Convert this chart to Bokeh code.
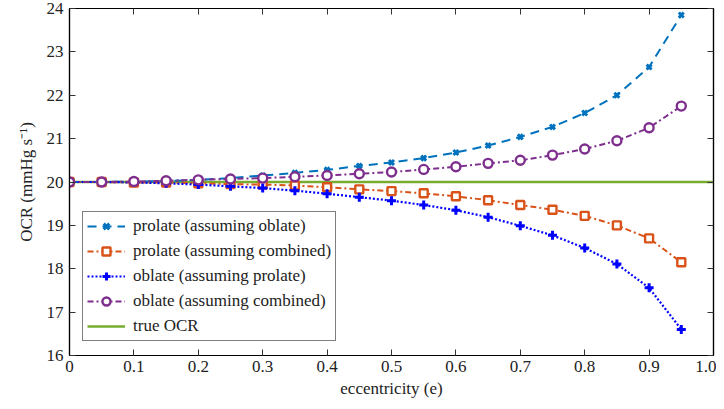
from bokeh.plotting import figure
from bokeh.models import LinearAxis, FixedTicker, Range1d, Legend, LegendItem
from bokeh.embed import file_html
from bokeh.resources import INLINE

# ---------------- data ----------------
e = [0, 0.05, 0.1, 0.15, 0.2, 0.25, 0.3, 0.35, 0.4, 0.45,
     0.5, 0.55, 0.6, 0.65, 0.7, 0.75, 0.8, 0.85, 0.9, 0.95]
prolate_oblate = [20.00, 20.00, 20.01, 20.02, 20.05, 20.09, 20.15, 20.21, 20.28, 20.37,
                  20.45, 20.55, 20.68, 20.84, 21.04, 21.27, 21.59, 22.00, 22.65, 23.85]
prolate_combined = [20.00, 20.00, 19.99, 19.99, 19.97, 19.95, 19.94, 19.92, 19.88, 19.83,
                    19.79, 19.74, 19.67, 19.58, 19.47, 19.36, 19.22, 19.00, 18.70, 18.15]
oblate_prolate = [20.00, 20.00, 19.99, 19.97, 19.94, 19.90, 19.86, 19.80, 19.73, 19.65,
                  19.57, 19.47, 19.35, 19.19, 18.99, 18.77, 18.48, 18.11, 17.56, 16.60]
oblate_combined = [20.00, 20.00, 20.01, 20.03, 20.05, 20.07, 20.09, 20.12, 20.15, 20.19,
                   20.23, 20.29, 20.35, 20.43, 20.50, 20.62, 20.76, 20.95, 21.25, 21.75]
true_x = [0, 1.0]
true_ocr = [20, 20]

x_ticks = [0, 0.1, 0.2, 0.3, 0.4, 0.5, 0.6, 0.7, 0.8, 0.9, 1.0]
x_tick_labels = ["0", "0.1", "0.2", "0.3", "0.4", "0.5", "0.6", "0.7", "0.8", "0.9", "1.0"]
y_ticks = [16, 17, 18, 19, 20, 21, 22, 23, 24]
y_tick_labels = ["16", "17", "18", "19", "20", "21", "22", "23", "24"]

labels = ["prolate (assuming oblate)", "prolate (assuming combined)",
          "oblate (assuming prolate)", "oblate (assuming combined)", "true OCR"]
x_label = "eccentricity (e)"
y_label = "OCR (mmHg s\u207b\u00b9)"

FONT = "Liberation Serif"

p = figure(width=716, height=400, output_backend="svg", toolbar_location=None,
           x_range=Range1d(0, 1.0), y_range=Range1d(16, 24),
           x_axis_location=None, y_axis_location=None,
           min_border_left=69, min_border_right=3, min_border_top=8, min_border_bottom=45)
p.grid.visible = False
p.outline_line_color = "black"
p.outline_line_width = 1.2
p.background_fill_color = "white"
p.border_fill_color = "white"


def make_axis(ticks, tick_labels, label=None, show=True, label_standoff=5, title_standoff=4):
    kw = dict(
        ticker=FixedTicker(ticks=ticks),
        major_tick_in=6, major_tick_out=0, minor_tick_in=0, minor_tick_out=0,
        axis_line_color="black", axis_line_width=1.2,
        major_tick_line_color="#333333",
        major_label_text_font=FONT,
        major_label_text_font_size="17px",
        major_label_text_color="#222222",
        major_label_standoff=label_standoff,
    )
    if show:
        kw["major_label_overrides"] = {t: l for t, l in zip(ticks, tick_labels)}
    else:
        kw["major_label_text_alpha"] = 0
        kw["major_label_overrides"] = {t: "" for t in ticks}
    if label is not None:
        kw.update(axis_label=label, axis_label_text_font=FONT,
                  axis_label_text_font_size="17px", axis_label_text_font_style="normal",
                  axis_label_text_color="#222222", axis_label_standoff=title_standoff)
    return LinearAxis(**kw)


p.add_layout(make_axis(x_ticks, x_tick_labels, x_label, label_standoff=5, title_standoff=4), "below")
p.add_layout(make_axis(y_ticks, y_tick_labels, y_label, label_standoff=6, title_standoff=8), "left")
p.add_layout(make_axis(x_ticks, x_tick_labels, show=False, label_standoff=0), "above")
p.add_layout(make_axis(y_ticks, y_tick_labels, show=False, label_standoff=0), "right")

c1, c2, c3, c4, c5 = "#0072BD", "#D95319", "#0000FF", "#7E2F8E", "#77AC30"

r5 = p.line(true_x, true_ocr, line_color=c5, line_width=2.5)

l1 = p.line(e, prolate_oblate, line_color=c1, line_width=2, line_dash="9 6")
s1 = p.scatter(e, prolate_oblate, marker="x", size=7, line_color=c1, line_width=3)
l2 = p.line(e, prolate_combined, line_color=c2, line_width=2, line_dash="6 3 2 3")
s2 = p.scatter(e, prolate_combined, marker="square", size=8, line_color=c2, fill_color="white", line_width=2.4)
l3 = p.line(e, oblate_prolate, line_color=c3, line_width=2.2, line_dash="2 2")
s3 = p.scatter(e, oblate_prolate, marker="cross", size=9, line_color=c3, line_width=3)
l4 = p.line(e, oblate_combined, line_color=c4, line_width=2, line_dash="6 3 2 3")
s4 = p.scatter(e, oblate_combined, marker="circle", size=9, line_color=c4, fill_color="white", line_width=2.4)

items = [LegendItem(label=labels[0], renderers=[l1, s1]),
         LegendItem(label=labels[1], renderers=[l2, s2]),
         LegendItem(label=labels[2], renderers=[l3, s3]),
         LegendItem(label=labels[3], renderers=[l4, s4]),
         LegendItem(label=labels[4], renderers=[r5])]

legend = Legend(items=items, location=(13, 14),
                border_line_color="black", border_line_width=1.2,
                background_fill_color="white", background_fill_alpha=1,
                label_text_font=FONT, label_text_font_style="normal",
                label_text_font_size="17px", label_text_color="#222222",
                glyph_width=38, glyph_height=20, label_height=20,
                spacing=5, padding=4, margin=0, label_standoff=8)
p.add_layout(legend, "center")

open("out.html", "w").write(file_html(p, INLINE))
